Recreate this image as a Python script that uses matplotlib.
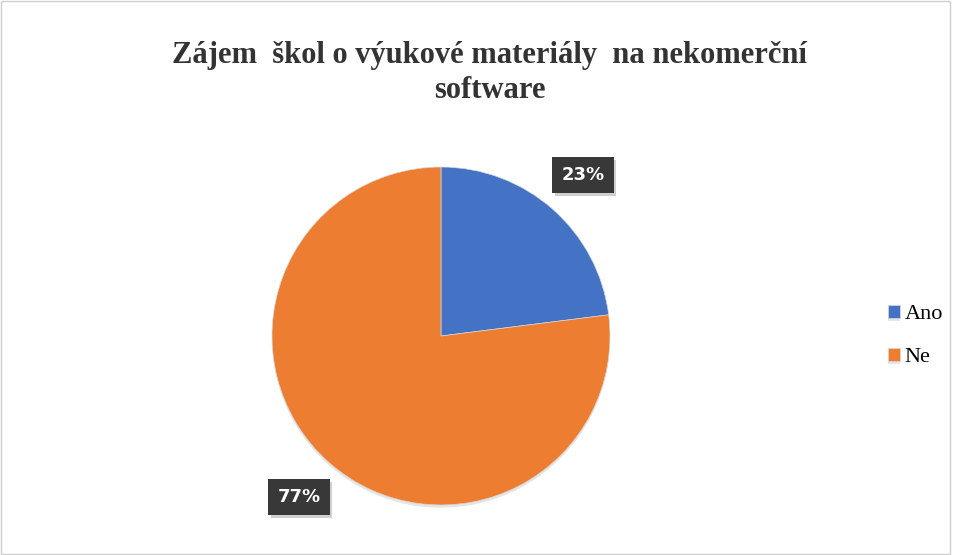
import matplotlib.pyplot as plt
import matplotlib.patheffects as pe
from matplotlib.patches import Rectangle

# data
labels = ['Ano', 'Ne']
values = [23, 77]
colors = ['#4472C4', '#ED7D31']
title = 'Zájem  škol o výukové materiály  na nekomerční\nsoftware'

fig = plt.figure(figsize=(9.56, 5.55), dpi=100)
fig.patches.append(Rectangle((0.001, 0.001), 0.993, 0.997, transform=fig.transFigure,
                             fill=False, edgecolor='#d0d0d0', lw=1))

# pie axes placed in pixel terms: centre (441, 336), radius 169
ax = fig.add_axes([(441 - 169) / 956, (555 - 336 - 169) / 555, 338 / 956, 338 / 555])
wedges, texts, autotexts = ax.pie(values, colors=colors, startangle=90, counterclock=False,
                                  autopct='%1.0f%%', pctdistance=1.27, radius=1,
                                  wedgeprops=dict(edgecolor='#d8d8d8', linewidth=0.5))
for w in wedges:
    w.set_path_effects([pe.SimplePatchShadow(offset=(0, -2), shadow_rgbFace='#999999', alpha=0.25),
                        pe.Normal()])
for t in autotexts:
    t.set_color('white')
    t.set_fontsize(13)
    t.set_fontweight('bold')
    t.set_family('DejaVu Sans')
    t.set_bbox(dict(boxstyle='square,pad=0.5', facecolor='#383838', edgecolor='none'))
    t.get_bbox_patch().set_path_effects([pe.SimplePatchShadow(offset=(2, -2), alpha=0.2),
                                         pe.Normal()])
ax.set_xlim(-1, 1)
ax.set_ylim(-1, 1)
ax.set_aspect('equal')

fig.text(490 / 956, 1 - 73 / 555, title, ha='center', va='center', fontsize=22,
         fontweight='bold', family='Liberation Serif', color='#333333', linespacing=1.25)

fig.legend(wedges, labels, loc='center left', bbox_to_anchor=(868 / 956, 1 - 336 / 555),
           frameon=False, prop={'family': 'Liberation Serif', 'size': 16},
           handlelength=0.55, handleheight=0.55, handletextpad=0.2, labelspacing=1.05)

plt.savefig('out.png', dpi=100)
